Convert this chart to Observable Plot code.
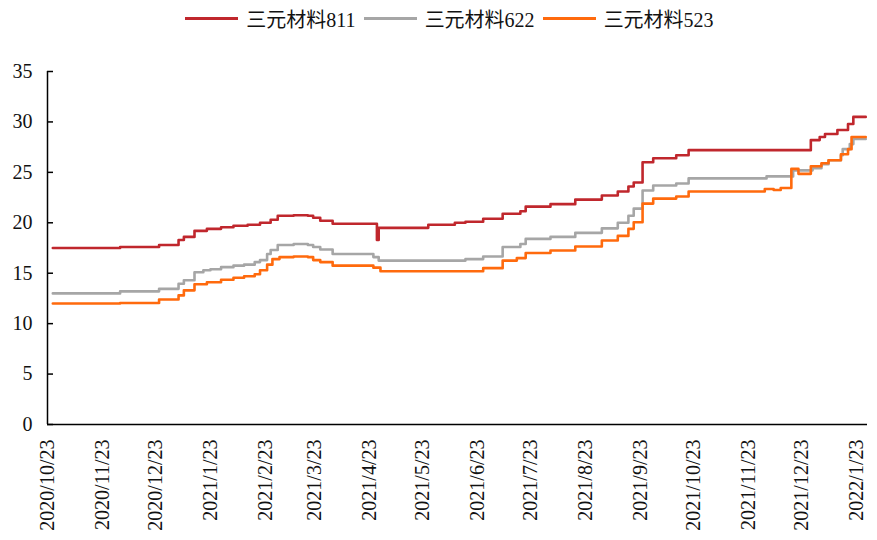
<!DOCTYPE html>
<html>
<head>
<meta charset="utf-8">
<script src="https://cdn.jsdelivr.net/npm/d3@7"></script>
<script src="https://cdn.jsdelivr.net/npm/@observablehq/plot@0.6"></script>
<style>
  html, body { margin: 0; padding: 0; background: #fff; }
  body { width: 877px; height: 540px; overflow: hidden; font-family: "Liberation Serif", "Noto Sans CJK SC", serif; }
  #legend { height: 36px; display: flex; align-items: center; justify-content: center; padding-left: 30px; box-sizing: border-box; font-size: 20px; color: #111; }
  .item { display: flex; align-items: center; margin-right: 8px; }
  .sw { width: 53px; height: 3px; margin-right: 8px; }
</style>
</head>
<body>
<div id="legend"></div>
<div id="chart"></div>
<script>
// ---- data ----
const seriesNames = ["三元材料811", "三元材料622", "三元材料523"];
const seriesColors = ["#C0272D", "#A6A6A6", "#FF6A0D"];

const dates811 = ["2020-10-26","2020-12-03","2020-12-25","2021-01-05","2021-01-08","2021-01-14","2021-01-21","2021-01-29","2021-02-05","2021-02-13","2021-02-20","2021-02-26","2021-03-02","2021-03-11","2021-03-19","2021-03-22","2021-03-26","2021-04-02","2021-04-27","2021-04-28","2021-05-26","2021-06-10","2021-06-16","2021-06-26","2021-07-07","2021-07-17","2021-07-20","2021-08-03","2021-08-17","2021-09-01","2021-09-10","2021-09-16","2021-09-19","2021-09-24","2021-09-30","2021-10-13","2021-10-20","2021-12-28","2022-01-02","2022-01-05","2022-01-12","2022-01-18","2022-01-21","2022-01-28"];
const values811 = [17.5,17.6,17.8,18.3,18.6,19.2,19.4,19.55,19.7,19.8,20.0,20.3,20.7,20.75,20.7,20.5,20.2,19.9,18.3,19.5,19.8,20.0,20.1,20.4,20.9,21.15,21.6,21.85,22.3,22.7,23.1,23.6,24.0,26.0,26.4,26.7,27.2,28.2,28.5,28.8,29.2,29.8,30.5,30.5];

const dates622 = ["2020-10-26","2020-12-03","2020-12-25","2021-01-05","2021-01-08","2021-01-14","2021-01-19","2021-01-23","2021-01-29","2021-02-05","2021-02-11","2021-02-17","2021-02-20","2021-02-24","2021-02-26","2021-03-02","2021-03-11","2021-03-19","2021-03-22","2021-03-26","2021-04-02","2021-04-25","2021-04-28","2021-06-16","2021-06-26","2021-07-07","2021-07-17","2021-07-20","2021-08-03","2021-08-17","2021-09-01","2021-09-10","2021-09-16","2021-09-19","2021-09-24","2021-09-30","2021-10-13","2021-10-20","2021-12-03","2021-12-18","2021-12-29","2022-01-03","2022-01-07","2022-01-14","2022-01-15","2022-01-19","2022-01-21","2022-01-28"];
const values622 = [13.0,13.2,13.45,13.95,14.3,15.1,15.3,15.4,15.6,15.75,15.85,16.1,16.3,16.9,17.3,17.8,17.9,17.8,17.6,17.35,16.9,16.6,16.25,16.4,16.65,17.6,17.9,18.4,18.6,19.0,19.45,20.0,20.7,21.4,23.2,23.7,23.9,24.4,24.6,25.2,25.4,25.8,26.2,26.7,27.3,27.8,28.3,28.3];

const dates523 = ["2020-10-26","2020-12-03","2020-12-25","2021-01-05","2021-01-08","2021-01-14","2021-01-21","2021-01-29","2021-02-05","2021-02-11","2021-02-17","2021-02-20","2021-02-24","2021-02-27","2021-03-03","2021-03-11","2021-03-19","2021-03-22","2021-03-26","2021-04-02","2021-04-25","2021-04-29","2021-06-26","2021-07-07","2021-07-15","2021-07-20","2021-08-03","2021-08-17","2021-09-01","2021-09-10","2021-09-16","2021-09-19","2021-09-24","2021-09-30","2021-10-13","2021-10-20","2021-12-02","2021-12-07","2021-12-11","2021-12-17","2021-12-21","2021-12-28","2022-01-03","2022-01-07","2022-01-14","2022-01-18","2022-01-20","2022-01-28"];
const values523 = [12.0,12.05,12.4,12.8,13.3,13.9,14.1,14.35,14.55,14.7,14.9,15.3,15.85,16.4,16.6,16.65,16.6,16.3,16.1,15.75,15.55,15.2,15.5,16.25,16.5,17.0,17.25,17.65,18.25,18.7,19.4,20.05,21.9,22.4,22.6,23.1,23.35,23.25,23.45,25.35,24.85,25.6,25.9,26.2,26.8,27.3,28.5,28.5];

const xTickLabels = ["2020/10/23","2020/11/23","2020/12/23","2021/1/23","2021/2/23","2021/3/23","2021/4/23","2021/5/23","2021/6/23","2021/7/23","2021/8/23","2021/9/23","2021/10/23","2021/11/23","2021/12/23","2022/1/23"];
const yTicks = [0,5,10,15,20,25,30,35];
const xDomain = ["2020-10-23","2022-01-29"];

// ---- build table ----
const parse = d3.utcParse("%Y-%m-%d");
const parseTick = d3.utcParse("%Y/%m/%d");
const rows = [];
[[dates811, values811], [dates622, values622], [dates523, values523]].forEach(([ds, vs], i) => {
  ds.forEach((d, j) => rows.push({series: seriesNames[i], date: parse(d), value: vs[j]}));
});
const xTicks = xTickLabels.map(s => parseTick(s));
const fmt = d3.utcFormat("%Y/%-m/%-d");

// ---- legend ----
const legend = document.getElementById("legend");
seriesNames.forEach((n, i) => {
  const it = document.createElement("div");
  it.className = "item";
  const sw = document.createElement("span");
  sw.className = "sw";
  sw.style.background = seriesColors[i];
  const t = document.createElement("span");
  t.textContent = n;
  it.appendChild(sw); it.appendChild(t);
  legend.appendChild(it);
});

// ---- chart ----
const chart = Plot.plot({
  width: 877,
  height: 504,
  marginLeft: 47,
  marginRight: 10,
  marginTop: 35,
  marginBottom: 116,
  style: {fontFamily: "'Liberation Serif', serif", fontSize: "20px", color: "#111", background: "#fff"},
  x: {type: "utc", domain: xDomain.map(parse)},
  y: {domain: [0, 35]},
  color: {domain: seriesNames, range: seriesColors},
  marks: [
    Plot.axisY({ticks: yTicks, tickSize: -6, tickPadding: 21, tickFormat: d => String(d), label: null, stroke: "#000", strokeWidth: 1.5}),
    Plot.axisX({ticks: xTicks, tickSize: 0, tickPadding: 15, tickRotate: -90, tickFormat: fmt, label: null}),
    Plot.lineY(rows, {x: "date", y: "value", z: "series", stroke: "series", strokeWidth: 2.6, curve: "step-after"}),
    Plot.ruleY([0], {stroke: "#000", strokeWidth: 1.5}),
    Plot.ruleX([parse(xDomain[0])], {stroke: "#000", strokeWidth: 1.5})
  ]
});
document.getElementById("chart").appendChild(chart);
</script>
</body>
</html>
